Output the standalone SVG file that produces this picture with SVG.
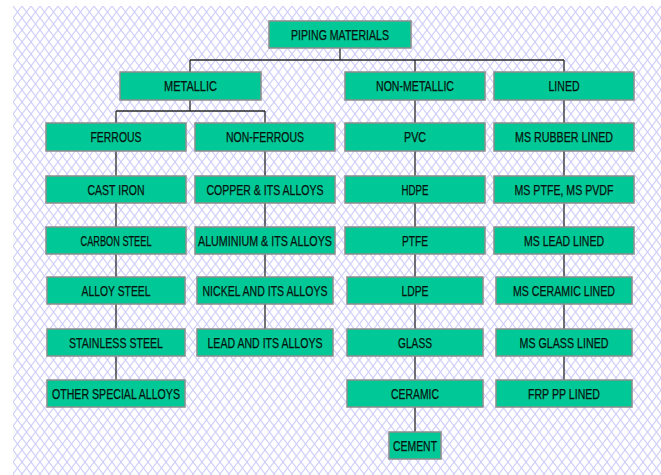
<svg xmlns="http://www.w3.org/2000/svg" width="661" height="475" viewBox="0 0 661 475">
<defs>
<pattern id="hatch" patternUnits="userSpaceOnUse" x="13" y="6" width="9" height="12">
<path d="M0,0 L9,12 M9,0 L0,12" stroke="#cfcff8" stroke-width="1.2" fill="none"/>
</pattern>
</defs>
<style>
.box{fill:#00c896;stroke:#8c8c8c;stroke-width:1.5}
.t{font-family:"Liberation Sans",Arial,sans-serif;font-size:14px;fill:#06140f;stroke:#06140f;stroke-width:0.25;text-anchor:middle}
.c{stroke:#2a2a2a;stroke-width:1.3;fill:none}
</style>
<rect x="0" y="0" width="661" height="475" fill="#ffffff"/>
<rect x="13" y="6" width="648" height="469" fill="url(#hatch)"/>
<g id="connectors">
<path class="c" d="M340,48 V60 M190,60 H564 M190,60 V72 M415,60 V72 M564,60 V72"/>
<path class="c" d="M190,100 V111 M116,111 H265 M116,111 V123 M265,111 V123"/>
<path class="c" d="M116,151 V380 M265,151 V329 M415,100 V432 M564,100 V380"/>
</g>
<g id="piping-materials"><rect class="box" x="269" y="21" width="142" height="27"/><text class="t" x="340" y="39.5" textLength="98" lengthAdjust="spacingAndGlyphs">PIPING MATERIALS</text></g>
<g id="metallic"><rect class="box" x="120" y="72" width="141" height="28"/><text class="t" x="190.5" y="91" textLength="53" lengthAdjust="spacingAndGlyphs">METALLIC</text></g>
<g id="non-metallic"><rect class="box" x="345" y="72" width="140" height="28"/><text class="t" x="415" y="91" textLength="78" lengthAdjust="spacingAndGlyphs">NON-METALLIC</text></g>
<g id="lined"><rect class="box" x="494" y="72" width="140" height="28"/><text class="t" x="564" y="91" textLength="31" lengthAdjust="spacingAndGlyphs">LINED</text></g>
<g id="ferrous"><rect class="box" x="46" y="123" width="140" height="28"/><text class="t" x="116" y="142" textLength="51" lengthAdjust="spacingAndGlyphs">FERROUS</text></g>
<g id="cast-iron"><rect class="box" x="46" y="176" width="140" height="27"/><text class="t" x="116" y="194.5" textLength="57" lengthAdjust="spacingAndGlyphs">CAST IRON</text></g>
<g id="carbon-steel"><rect class="box" x="46" y="227" width="140" height="27"/><text class="t" x="116" y="245.5" textLength="71" lengthAdjust="spacingAndGlyphs">CARBON STEEL</text></g>
<g id="alloy-steel"><rect class="box" x="47" y="277" width="138" height="27"/><text class="t" x="116" y="295.5" textLength="69" lengthAdjust="spacingAndGlyphs">ALLOY STEEL</text></g>
<g id="stainless-steel"><rect class="box" x="47" y="329" width="138" height="27"/><text class="t" x="116" y="347.5" textLength="94" lengthAdjust="spacingAndGlyphs">STAINLESS STEEL</text></g>
<g id="other-special-alloys"><rect class="box" x="47" y="380" width="138" height="27"/><text class="t" x="116" y="398.5" textLength="128" lengthAdjust="spacingAndGlyphs">OTHER SPECIAL ALLOYS</text></g>
<g id="non-ferrous"><rect class="box" x="195" y="123" width="140" height="28"/><text class="t" x="265" y="142" textLength="78" lengthAdjust="spacingAndGlyphs">NON-FERROUS</text></g>
<g id="copper"><rect class="box" x="195" y="176" width="140" height="27"/><text class="t" x="265" y="194.5" textLength="117" lengthAdjust="spacingAndGlyphs">COPPER &amp; ITS ALLOYS</text></g>
<g id="aluminium"><rect class="box" x="195" y="227" width="140" height="27"/><text class="t" x="265" y="245.5" textLength="134" lengthAdjust="spacingAndGlyphs">ALUMINIUM &amp; ITS ALLOYS</text></g>
<g id="nickel"><rect class="box" x="197" y="277" width="136" height="27"/><text class="t" x="265" y="295.5" textLength="125" lengthAdjust="spacingAndGlyphs">NICKEL AND ITS ALLOYS</text></g>
<g id="lead"><rect class="box" x="197" y="329" width="136" height="27"/><text class="t" x="265" y="347.5" textLength="115" lengthAdjust="spacingAndGlyphs">LEAD AND ITS ALLOYS</text></g>
<g id="pvc"><rect class="box" x="345" y="123" width="140" height="28"/><text class="t" x="415" y="142" textLength="22" lengthAdjust="spacingAndGlyphs">PVC</text></g>
<g id="hdpe"><rect class="box" x="345" y="176" width="140" height="27"/><text class="t" x="415" y="194.5" textLength="27" lengthAdjust="spacingAndGlyphs">HDPE</text></g>
<g id="ptfe"><rect class="box" x="345" y="227" width="140" height="27"/><text class="t" x="415" y="245.5" textLength="26" lengthAdjust="spacingAndGlyphs">PTFE</text></g>
<g id="ldpe"><rect class="box" x="347" y="277" width="136" height="27"/><text class="t" x="415" y="295.5" textLength="27" lengthAdjust="spacingAndGlyphs">LDPE</text></g>
<g id="glass"><rect class="box" x="347" y="329" width="136" height="27"/><text class="t" x="415" y="347.5" textLength="34" lengthAdjust="spacingAndGlyphs">GLASS</text></g>
<g id="ceramic"><rect class="box" x="347" y="380" width="136" height="27"/><text class="t" x="415" y="398.5" textLength="48" lengthAdjust="spacingAndGlyphs">CERAMIC</text></g>
<g id="cement"><rect class="box" x="389" y="432" width="52" height="27"/><text class="t" x="415" y="450.5" textLength="44" lengthAdjust="spacingAndGlyphs">CEMENT</text></g>
<g id="ms-rubber-lined"><rect class="box" x="494" y="123" width="140" height="28"/><text class="t" x="564" y="142" textLength="98" lengthAdjust="spacingAndGlyphs">MS RUBBER LINED</text></g>
<g id="ms-ptfe-pvdf"><rect class="box" x="494" y="176" width="140" height="27"/><text class="t" x="564" y="194.5" textLength="99" lengthAdjust="spacingAndGlyphs">MS PTFE, MS PVDF</text></g>
<g id="ms-lead-lined"><rect class="box" x="494" y="227" width="140" height="27"/><text class="t" x="564" y="245.5" textLength="80" lengthAdjust="spacingAndGlyphs">MS LEAD LINED</text></g>
<g id="ms-ceramic-lined"><rect class="box" x="496" y="277" width="136" height="27"/><text class="t" x="564" y="295.5" textLength="102" lengthAdjust="spacingAndGlyphs">MS CERAMIC LINED</text></g>
<g id="ms-glass-lined"><rect class="box" x="496" y="329" width="136" height="27"/><text class="t" x="564" y="347.5" textLength="89" lengthAdjust="spacingAndGlyphs">MS GLASS LINED</text></g>
<g id="frp-pp-lined"><rect class="box" x="496" y="380" width="136" height="27"/><text class="t" x="564" y="398.5" textLength="72" lengthAdjust="spacingAndGlyphs">FRP PP LINED</text></g>
</svg>
